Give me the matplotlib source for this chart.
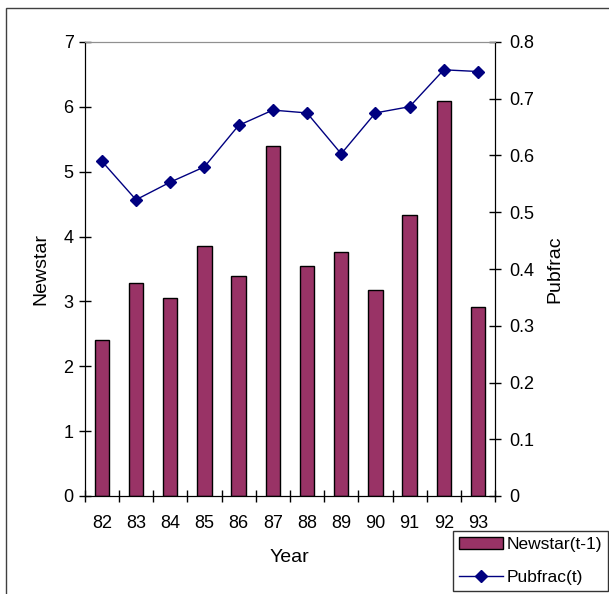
import matplotlib
matplotlib.use("Agg")
import matplotlib.pyplot as plt
from matplotlib.patches import Rectangle
import numpy as np

plt.rcParams['font.family'] = ['Liberation Sans', 'DejaVu Sans']

# values
years = ["82", "83", "84", "85", "86", "87", "88", "89", "90", "91", "92", "93"]
newstar = [2.41, 3.28, 3.06, 3.85, 3.39, 5.40, 3.54, 3.76, 3.18, 4.33, 6.09, 2.92]
pubfrac = [0.590, 0.522, 0.553, 0.580, 0.653, 0.680, 0.675, 0.603, 0.675, 0.686, 0.751, 0.748]

TICK_FS = 13
LABEL_FS = 14
LEG_FS = 12.5
W, H = 609, 594
fig = plt.figure(figsize=(W / 100, H / 100), dpi=100)
ax = fig.add_axes([84.7 / W, 1 - 496 / H, 410.4 / W, 454 / H])
ax2 = ax.twinx()

x = np.arange(len(years))
bars = ax.bar(x, newstar, width=0.42, color="#993366", edgecolor="black",
              linewidth=1.0, label="Newstar(t-1)", zorder=2)
line, = ax2.plot(x, pubfrac, color="#000080", lw=1.0, marker="D", ms=6.5,
                 label="Pubfrac(t)", zorder=3)

ax.set_xlim(-0.5, len(years) - 0.5)
ax.set_ylim(0, 7)
ax2.set_ylim(0, 0.8)

# category ticks sit between bars, labels centred on bars
ax.set_xticks(np.arange(-0.5, len(years), 1.0))
ax.set_xticklabels([])
ax.set_xticks(x, minor=True)
ax.set_xticklabels(years, minor=True, fontsize=TICK_FS)
ax.tick_params(axis="x", which="major", direction="inout", length=9, width=1)
ax.tick_params(axis="x", which="minor", length=0, pad=14)

ax.set_yticks(range(0, 8))
ax.tick_params(axis="y", direction="inout", length=8, width=1, labelsize=TICK_FS, pad=4)
ax2.set_yticks(np.arange(0, 0.81, 0.1))
ax2.set_yticklabels(["0"] + [f"{v:.1f}" for v in np.arange(0.1, 0.81, 0.1)])
ax2.tick_params(axis="y", direction="inout", length=9, width=1, labelsize=TICK_FS, pad=6)

for a in (ax, ax2):
    a.spines["top"].set_color("#909090")
    a.spines["left"].set_color("black")
    a.spines["right"].set_color("black")
    a.spines["bottom"].set_color("black")

ax.set_xlabel("Year", fontsize=LABEL_FS, labelpad=12)
ax.set_ylabel("Newstar", fontsize=LABEL_FS, labelpad=10)
ax2.set_ylabel("Pubfrac", fontsize=LABEL_FS, labelpad=8)

leg = fig.legend([bars, line], ["Newstar(t-1)", "Pubfrac(t)"],
                 loc="upper left", bbox_to_anchor=(453 / W, 1 - 531 / H),
                 fontsize=LEG_FS, frameon=True, fancybox=False, shadow=False,
                 borderpad=0.35, labelspacing=1.0, handlelength=2.55,
                 handletextpad=0.2, borderaxespad=0)
leg.get_frame().set_edgecolor("black")
leg.get_frame().set_linewidth(1.0)

# outer chart border (runs off the right and bottom edges like the source)
fig.patches.append(Rectangle((6 / W, -0.1), 1.2, 1 - 8 / H + 0.1,
                             transform=fig.transFigure, fill=False,
                             edgecolor="#404040", linewidth=1.0))

fig.savefig("out.png", dpi=100)
